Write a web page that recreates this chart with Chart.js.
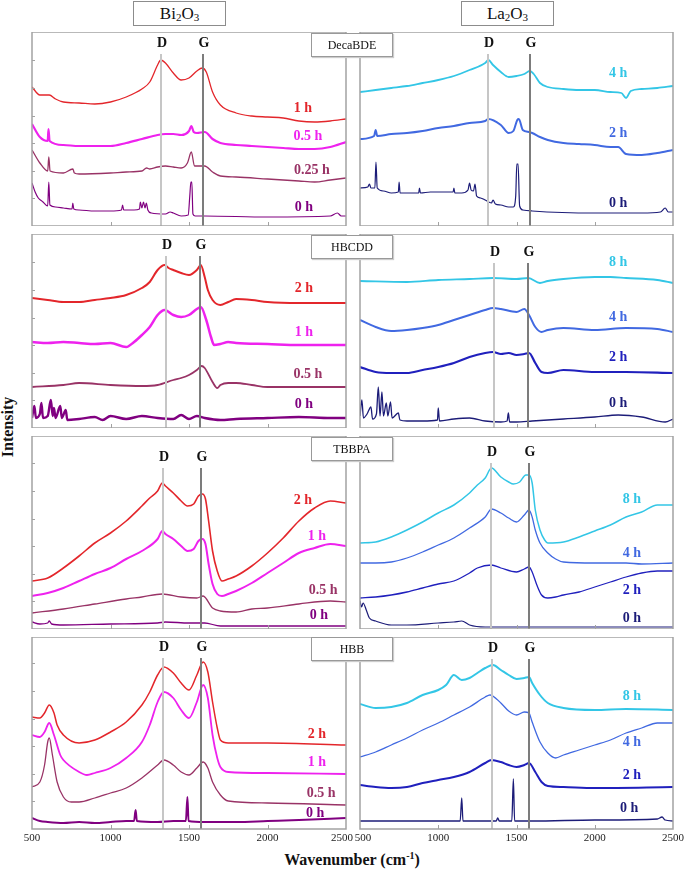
<!DOCTYPE html>
<html>
<head>
<meta charset="utf-8">
<script src="https://cdn.jsdelivr.net/npm/chart.js@4.4.0/dist/chart.umd.min.js"></script>
<style>
  body { margin: 0; width: 685px; height: 870px; background: #fff; position: relative; overflow: hidden;
         font-family: "Liberation Serif", "Times New Roman", serif; color: #111; }
  .wrap { position: absolute; }
  .hdr { position: absolute; top: 1px; width: 91px; height: 23px; border: 1px solid #8c8c8c; background: #fff;
         text-align: center; font-size: 17px; line-height: 24px; }
  .hdr sub { font-size: 11px; vertical-align: -2px; line-height: 0; }
  .tag { position: absolute; left: 311px; width: 80px; height: 22px; border: 1px solid #999; background: #fff;
         text-align: center; font-size: 12px; line-height: 23px; z-index: 5; box-shadow: 1px 1px 1px #ccc; }
  .ylab { position: absolute; left: -32px; top: 418px; width: 80px; text-align: center; font-weight: bold;
          font-size: 16px; transform: rotate(-90deg); }
  .xlab { position: absolute; left: 252px; top: 850px; width: 200px; text-align: center; font-weight: bold; font-size: 16px; }
  .xlab sup { font-size: 10px; }
</style>
</head>
<body>
<div class="hdr" style="left:133px">Bi<sub>2</sub>O<sub>3</sub></div>
<div class="hdr" style="left:461px">La<sub>2</sub>O<sub>3</sub></div>
<div class="tag" style="top:33px">DecaBDE</div>
<div class="tag" style="top:235px">HBCDD</div>
<div class="tag" style="top:437px">TBBPA</div>
<div class="tag" style="top:637px">HBB</div>
<div class="ylab">Intensity</div>
<div class="xlab">Wavenumber (cm<sup>-1</sup>)</div>

<script>
// wavenumber (cm-1), intensity (a.u.) pairs
// --- Bi2O3 / DecaBDE
const bd1h = [[500,139],[550,131],[610,131],[650,127],[700,124],[800,123],[900,122],[1000,124],[1100,129],[1200,137],[1250,144],[1300,161],[1320,166],[1350,163],[1400,153],[1450,146],[1500,148],[1550,155],[1585,158],[1610,154],[1650,134],[1700,121],[1800,113],[1900,110],[2000,109],[2100,108],[2200,105],[2300,104],[2400,105],[2500,107]]
const bd05h = [[500,102],[550,89],[600,85],[605,97],[612,85],[700,81],[800,80],[900,80],[1000,80],[1100,83],[1200,87],[1300,91],[1350,92],[1400,92],[1450,91],[1500,95],[1515,100],[1530,94],[1550,93],[1600,94],[1650,87],[1700,83],[1800,81],[1900,80],[2000,79],[2100,78],[2200,77],[2300,77],[2400,79],[2500,84]]
const bd025h = [[500,76],[550,63],[600,55],[607,69],[615,55],[700,53],[760,57],[770,53],[800,52],[1000,53],[1100,54],[1200,55],[1230,58],[1250,57],[1300,59],[1350,60],[1400,59],[1450,58],[1490,63],[1515,74],[1535,60],[1600,60],[1650,54],[1700,50],[1800,49],[2000,47],[2200,45],[2300,44],[2400,46],[2500,48]]
const bd0h = [[500,43],[520,34],[540,28],[570,24],[600,20],[607,44],[614,21],[650,19],[700,18],[755,17],[760,23],[766,17],[800,16],[900,15],[1000,15],[1070,16],[1077,21],[1084,16],[1150,16],[1185,17],[1190,24],[1200,18],[1210,24],[1220,18],[1228,23],[1238,16],[1260,13],[1350,12],[1380,14],[1400,13],[1450,10],[1495,11],[1505,30],[1512,44],[1518,44],[1525,12],[1540,10],[1600,10],[2000,9],[2400,10],[2445,13],[2470,10],[2500,10]]
// --- La2O3 / DecaBDE
const ld4h = [[500,134],[600,136],[700,138],[800,140],[900,143],[1000,146],[1100,150],[1200,156],[1300,163],[1320,166],[1350,161],[1400,154],[1450,149],[1500,150],[1550,152],[1585,155],[1610,152],[1650,143],[1700,139],[1800,137],[1900,136],[2000,136],[2100,134],[2170,133],[2200,128],[2230,135],[2300,137],[2400,138],[2500,140]]
const ld2h = [[500,87],[590,90],[600,96],[610,90],[700,92],[800,93],[900,95],[1000,98],[1100,100],[1200,103],[1300,105],[1320,107],[1400,101],[1450,93],[1480,95],[1505,106],[1515,107],[1540,96],[1580,94],[1600,93],[1650,89],[1700,86],[1800,83],[1900,82],[2000,81],[2100,79],[2150,79],[2200,72],[2300,71],[2400,73],[2500,76]]
const ld0h = [[500,38],[550,39],[560,42],[570,38],[595,38],[602,64],[610,38],[650,35],[700,33],[745,34],[750,44],[756,33],[800,33],[875,33],[880,38],[886,33],[950,34],[1000,34],[1095,34],[1100,38],[1106,33],[1150,33],[1190,36],[1200,43],[1210,36],[1225,35],[1235,42],[1245,30],[1270,28],[1300,26],[1340,23],[1350,26],[1365,22],[1400,21],[1450,19],[1480,19],[1495,30],[1502,62],[1510,62],[1520,20],[1540,16],[1600,15],[2000,13],[2300,13],[2420,14],[2450,18],[2470,14],[2500,14]]
// --- Bi2O3 / HBCDD
const bh2h = [[500,130],[600,128],[700,126],[800,126],[900,128],[1000,130],[1100,133],[1200,140],[1250,146],[1300,158],[1345,163],[1370,160],[1400,158],[1450,155],[1500,153],[1550,158],[1575,163],[1600,151],[1620,138],[1650,128],[1700,123],[1750,126],[1800,129],[1900,128],[2000,126],[2200,125],[2500,125]]
const bh1h = [[500,86],[600,85],[700,86],[800,85],[900,84],[1000,85],[1100,81],[1150,86],[1200,93],[1250,101],[1300,113],[1345,118],[1400,113],[1450,111],[1500,113],[1550,119],[1575,121],[1610,108],[1640,91],[1660,83],[1700,84],[1750,86],[1800,85],[2000,84],[2200,83],[2500,83]]
const bh05h = [[500,41],[700,43],[800,45],[1000,43],[1200,42],[1300,43],[1400,48],[1450,50],[1500,53],[1550,58],[1580,62],[1600,60],[1650,46],[1680,40],[1700,43],[1750,45],[1800,45],[1900,43],[2000,41],[2500,41]]
const bh0h = [[500,10],[515,22],[525,10],[550,14],[560,25],[570,10],[600,12],[620,28],[632,12],[640,20],[650,10],[680,22],[690,10],[715,18],[725,8],[800,9],[900,11],[950,8],[1000,12],[1100,9],[1200,12],[1300,10],[1400,9],[1450,13],[1500,9],[1550,12],[1600,10],[1700,8],[1800,9],[2000,10],[2200,11],[2400,10],[2500,10]]
// --- La2O3 / HBCDD
const lh8h = [[500,147],[800,146],[1000,148],[1200,149],[1350,150],[1500,149],[1575,150],[1650,145],[1700,147],[1800,149],[2000,151],[2100,151],[2200,150],[2400,148],[2500,145]]
const lh4h = [[500,108],[600,101],[700,97],[800,98],[900,100],[1000,103],[1100,108],[1200,113],[1300,118],[1350,120],[1400,119],[1500,116],[1550,119],[1580,113],[1620,101],[1660,96],[1700,98],[1800,100],[2000,98],[2200,100],[2400,99],[2500,96]]
const lh2h = [[500,61],[600,56],[700,55],[800,55],[900,58],[1000,61],[1100,65],[1200,71],[1300,75],[1350,76],[1400,74],[1450,75],[1500,73],[1550,74],[1580,75],[1620,65],[1660,56],[1700,55],[1800,58],[2000,56],[2200,56],[2500,55]]
const lh0h = [[500,12],[512,28],[522,10],[545,14],[570,21],[580,9],[605,14],[617,41],[628,12],[640,36],[650,12],[668,25],[678,12],[695,26],[705,10],[745,15],[755,8],[800,7],[900,7],[995,8],[1000,20],[1008,7],[1100,9],[1200,10],[1300,7],[1400,6],[1440,7],[1448,15],[1456,6],[1500,6],[1600,7],[1800,9],[2000,11],[2150,13],[2300,11],[2450,6],[2500,9]]
// --- Bi2O3 / TBBPA
const bt2h = [[500,48],[600,51],[700,61],[800,73],[900,86],[1000,96],[1100,108],[1200,123],[1250,131],[1300,138],[1330,146],[1350,143],[1400,136],[1450,128],[1490,123],[1530,125],[1560,133],[1585,135],[1605,130],[1625,108],[1650,78],[1680,58],[1710,48],[1750,50],[1800,53],[1900,63],[2000,76],[2100,91],[2200,108],[2300,121],[2400,128],[2500,126]]
const bt1h = [[500,33],[600,36],[700,41],[800,48],[900,55],[1000,61],[1100,70],[1200,78],[1300,90],[1330,98],[1350,95],[1400,90],[1450,83],[1490,78],[1530,80],[1560,88],[1585,90],[1605,85],[1625,65],[1650,45],[1680,35],[1710,33],[1750,35],[1800,38],[1900,46],[2000,56],[2100,66],[2200,76],[2300,81],[2400,85],[2500,83]]
const bt05h = [[500,16],[700,20],[900,25],[1100,30],[1200,32],[1330,35],[1450,32],[1550,31],[1590,33],[1650,21],[1700,18],[1800,17],[1900,20],[2000,21],[2200,25],[2400,28],[2500,27]]
const bt0h = [[500,7],[550,5],[600,6],[610,8],[625,5],[700,4],[1000,5],[1300,6],[1350,7],[1500,6],[1600,6],[1700,3],[2000,3],[2500,3]]
// --- La2O3 / TBBPA
const lt8h = [[500,86],[600,87],[700,92],[800,99],[900,107],[1000,116],[1100,124],[1200,136],[1250,144],[1300,151],[1340,161],[1400,152],[1450,147],[1480,145],[1520,147],[1560,154],[1580,154],[1600,146],[1620,119],[1650,99],[1680,89],[1700,86],[1800,87],[1900,92],[2000,98],[2100,104],[2200,112],[2300,117],[2400,124],[2500,124]]
const lt4h = [[500,66],[600,66],[700,67],[800,71],[900,77],[1000,84],[1100,91],[1200,101],[1300,112],[1340,120],[1400,116],[1450,111],[1500,107],[1550,114],[1580,119],[1600,112],[1620,99],[1650,86],[1700,76],[1750,70],[1800,67],[2000,66],[2200,66],[2300,65],[2500,66]]
const lt2h = [[500,31],[600,32],[700,34],[800,37],[900,41],[1000,45],[1100,48],[1200,56],[1250,61],[1340,64],[1400,61],[1500,57],[1550,60],[1580,62],[1600,57],[1630,44],[1660,34],[1700,31],[1750,32],[1800,34],[1900,37],[2000,42],[2100,47],[2200,52],[2300,56],[2400,58],[2500,58]]
const lt0h = [[500,28],[510,22],[520,26],[540,19],[560,11],[600,8],[700,4],[800,4],[1000,6],[1100,7],[1150,8],[1200,4],[1300,2],[1500,2],[2000,2],[2500,2]]
// --- Bi2O3 / HBB
const bb2h = [[500,112],[550,111],[580,116],[610,124],[640,116],[660,104],[700,94],[800,86],[900,89],[1000,97],[1100,107],[1200,124],[1250,137],[1300,154],[1340,162],[1400,156],[1450,146],[1500,139],[1550,154],[1590,167],[1620,157],[1650,127],[1680,101],[1700,89],[1750,86],[2000,86],[2500,84]]
const bb1h = [[500,94],[550,92],[580,97],[610,106],[640,94],[680,74],[700,69],[800,57],[850,54],[900,56],[1000,61],[1100,71],[1200,87],[1250,104],[1300,127],[1340,137],[1400,131],[1450,119],[1500,111],[1550,127],[1590,144],[1620,131],[1650,94],[1680,71],[1700,62],[1750,57],[2000,56],[2500,55]]
const bb05h = [[500,42],[550,47],[580,64],[600,87],[610,91],[630,74],[660,47],[700,32],[750,27],[800,27],[900,31],[1000,36],[1100,41],[1200,51],[1300,64],[1340,69],[1400,64],[1450,57],[1500,54],[1550,61],[1590,67],[1620,61],[1650,47],[1700,34],[1750,28],[2000,26],[2500,24]]
const bb0h = [[500,11],[550,8],[600,7],[700,6],[800,7],[900,6],[1000,7],[1100,8],[1150,8],[1160,19],[1168,8],[1300,7],[1400,8],[1480,8],[1490,32],[1497,8],[1600,7],[1800,7],[2000,8],[2200,9],[2500,11]]
// --- La2O3 / HBB
const lb8h = [[500,125],[600,121],[700,122],[800,126],[900,134],[1000,139],[1050,144],[1100,154],[1150,149],[1200,151],[1250,156],[1300,161],[1350,164],[1400,159],[1450,154],[1500,150],[1550,151],[1580,152],[1600,146],[1650,134],[1700,126],[1800,121],[2000,119],[2200,120],[2500,119]]
const lb4h = [[500,72],[600,77],[700,84],[800,91],[900,99],[1000,106],[1100,114],[1200,122],[1300,132],[1330,134],[1400,126],[1450,118],[1500,114],[1550,117],[1580,116],[1600,107],[1650,87],[1700,76],[1750,71],[1800,74],[1900,79],[2000,84],[2100,89],[2200,96],[2300,101],[2400,106],[2500,106]]
const lb2h = [[500,44],[600,42],[700,41],[800,42],[900,46],[1000,49],[1100,52],[1200,57],[1300,66],[1340,69],[1400,67],[1450,64],[1500,62],[1550,64],[1580,66],[1620,57],[1660,47],[1700,43],[1800,42],[2000,41],[2500,42]]
const lb0h = [[500,8],[700,8],[900,8],[1140,8],[1150,31],[1158,8],[1370,8],[1380,11],[1390,8],[1470,8],[1480,50],[1488,8],[1600,8],[2000,9],[2400,10],[2430,12],[2450,9],[2500,8]]

const xTicks = [500, 1000, 1500, 2000, 2500]
const yTickStep = 27.6   // spacing of the small intensity ticks on the Bi2O3 frames
// D and G band positions per panel (cm-1)
const dBand = [1322, 1320, 1351, 1354, 1332, 1337, 1336, 1341]
const gBand = [1587, 1586, 1570, 1575, 1574, 1578, 1576, 1582]

const RED = '#e3262b', MAG = '#ee22ee', PLUM = '#993366', PURP = '#800080'
const CYAN = '#33c6e6', ROYAL = '#4169e1', MBLUE = '#2020bd', NAVY = '#1c1c78'

// layout
const colX = [32, 360], colW = [314, 313]
const rowY = [32, 234, 436, 637], rowH = [194, 194, 193, 192]
const tagY = [[11, 11], [11, 18], [21, 16], [10, 11]]

const panels = [
  { row: 0, col: 0, curves: [
    { d: bd1h, c: RED, w: 1.3, t: '1 h', lx: 2226, ly: 118 },
    { d: bd05h, c: MAG, w: 2.2, t: '0.5 h', lx: 2258, ly: 90 },
    { d: bd025h, c: PLUM, w: 1.3, t: '0.25 h', lx: 2283, ly: 56 },
    { d: bd0h, c: PURP, w: 1.2, t: '0 h', lx: 2232, ly: 19 }] },
  { row: 0, col: 1, curves: [
    { d: ld4h, c: CYAN, w: 1.8, t: '4 h', lx: 2149, ly: 153 },
    { d: ld2h, c: ROYAL, w: 2, t: '2 h', lx: 2149, ly: 93 },
    { d: ld0h, c: NAVY, w: 1.2, t: '0 h', lx: 2149, ly: 23 }] },
  { row: 1, col: 0, curves: [
    { d: bh2h, c: RED, w: 2, t: '2 h', lx: 2232, ly: 140 },
    { d: bh1h, c: MAG, w: 2.5, t: '1 h', lx: 2232, ly: 96 },
    { d: bh05h, c: PLUM, w: 1.8, t: '0.5 h', lx: 2258, ly: 54 },
    { d: bh0h, c: PURP, w: 2.4, t: '0 h', lx: 2232, ly: 24 }] },
  { row: 1, col: 1, curves: [
    { d: lh8h, c: CYAN, w: 1.8, t: '8 h', lx: 2149, ly: 166 },
    { d: lh4h, c: ROYAL, w: 2, t: '4 h', lx: 2149, ly: 111 },
    { d: lh2h, c: MBLUE, w: 2.2, t: '2 h', lx: 2149, ly: 71 },
    { d: lh0h, c: NAVY, w: 1.3, t: '0 h', lx: 2149, ly: 25 }] },
  { row: 2, col: 0, curves: [
    { d: bt2h, c: RED, w: 1.6, t: '2 h', lx: 2226, ly: 129 },
    { d: bt1h, c: MAG, w: 2, t: '1 h', lx: 2315, ly: 93 },
    { d: bt05h, c: PLUM, w: 1.3, t: '0.5 h', lx: 2354, ly: 39 },
    { d: bt0h, c: PURP, w: 1.3, t: '0 h', lx: 2328, ly: 14 }] },
  { row: 2, col: 1, curves: [
    { d: lt8h, c: CYAN, w: 1.5, t: '8 h', lx: 2238, ly: 130 },
    { d: lt4h, c: ROYAL, w: 1.3, t: '4 h', lx: 2238, ly: 76 },
    { d: lt2h, c: MBLUE, w: 1.3, t: '2 h', lx: 2238, ly: 39 },
    { d: lt0h, c: NAVY, w: 1.2, t: '0 h', lx: 2238, ly: 11 }] },
  { row: 3, col: 0, curves: [
    { d: bb2h, c: RED, w: 1.5, t: '2 h', lx: 2315, ly: 95 },
    { d: bb1h, c: MAG, w: 1.8, t: '1 h', lx: 2315, ly: 67 },
    { d: bb05h, c: PLUM, w: 1.3, t: '0.5 h', lx: 2341, ly: 36 },
    { d: bb0h, c: PURP, w: 2, t: '0 h', lx: 2303, ly: 16 }] },
  { row: 3, col: 1, curves: [
    { d: lb8h, c: CYAN, w: 2, t: '8 h', lx: 2238, ly: 133 },
    { d: lb4h, c: ROYAL, w: 1.3, t: '4 h', lx: 2238, ly: 87 },
    { d: lb2h, c: MBLUE, w: 2, t: '2 h', lx: 2238, ly: 54 },
    { d: lb0h, c: NAVY, w: 1.3, t: '0 h', lx: 2219, ly: 21 }] }
]

const SIDE = 18, FOOT = 22

const decor = (p, i) => ({
  id: 'decor' + i,
  afterDatasetsDraw(chart) {
    const { ctx, chartArea: a, scales: { x, y } } = chart
    const ty = a.top + tagY[p.row][p.col]
    ctx.save()
    // band lines
    ctx.lineWidth = 2
    ctx.strokeStyle = '#c6c6c6'
    let px = Math.round(x.getPixelForValue(dBand[i]))
    ctx.beginPath(); ctx.moveTo(px, ty + 11); ctx.lineTo(px, a.bottom); ctx.stroke()
    ctx.strokeStyle = '#7c7c7c'
    let gx = Math.round(x.getPixelForValue(gBand[i]))
    ctx.beginPath(); ctx.moveTo(gx, ty + 11); ctx.lineTo(gx, a.bottom); ctx.stroke()
    ctx.fillStyle = '#111'
    ctx.font = 'bold 14px "Liberation Serif"'
    ctx.textAlign = 'center'
    ctx.textBaseline = 'middle'
    ctx.fillText('D', px + 1, ty)
    ctx.fillText('G', gx + 1, ty)
    // curve labels
    p.curves.forEach(c => {
      ctx.fillStyle = c.c
      ctx.fillText(c.t, x.getPixelForValue(c.lx), y.getPixelForValue(c.ly))
    })
    // frame
    ctx.strokeStyle = '#a2a2a2'
    ctx.lineWidth = 1.5
    ctx.strokeRect(a.left, a.top, a.right - a.left, a.bottom - a.top)
    // small inner ticks
    ctx.lineWidth = 1
    xTicks.slice(1, -1).forEach(v => {
      const tx = Math.round(x.getPixelForValue(v)) + 0.5
      ctx.beginPath(); ctx.moveTo(tx, a.bottom); ctx.lineTo(tx, a.bottom - 4); ctx.stroke()
    })
    if (p.col === 0) {
      for (let v = yTickStep; v < rowH[p.row] - 10; v += yTickStep) {
        const yy = Math.round(y.getPixelForValue(v)) + 0.5
        ctx.beginPath(); ctx.moveTo(a.left, yy); ctx.lineTo(a.left + 3, yy); ctx.stroke()
      }
    }
    if (p.row === 3) {
      ctx.fillStyle = '#222'
      ctx.font = '11px "Liberation Serif"'
      ctx.textBaseline = 'top'
      xTicks.forEach((v, k) => {
        // the two edge labels where the panels meet are nudged apart
        let off = 0
        if (p.col === 0 && k === xTicks.length - 1) off = -4
        if (p.col === 1 && k === 0) off = 3
        ctx.fillText(String(v), x.getPixelForValue(v) + off, a.bottom + 4)
      })
    }
    ctx.restore()
  }
})

panels.forEach((p, i) => {
  const w = colW[p.col] + SIDE * 2
  const h = rowH[p.row] + (p.row === 3 ? FOOT : 0)
  const div = document.createElement('div')
  div.className = 'wrap'
  div.style.left = (colX[p.col] - SIDE) + 'px'
  div.style.top = rowY[p.row] + 'px'
  const cv = document.createElement('canvas')
  cv.width = w
  cv.height = h
  div.appendChild(cv)
  document.body.appendChild(div)

  new Chart(cv, {
    type: 'line',
    data: {
      datasets: p.curves.map(c => ({
        label: c.t,
        data: c.d.map(([wn, v]) => ({ x: wn, y: v })),
        borderColor: c.c,
        borderWidth: c.w,
        pointRadius: 0,
        fill: false,
        cubicInterpolationMode: 'monotone'
      }))
    },
    options: {
      responsive: false,
      animation: false,
      devicePixelRatio: 1,
      events: [],
      layout: { padding: { left: SIDE, right: SIDE, top: 0, bottom: p.row === 3 ? FOOT : 0 } },
      scales: {
        x: { type: 'linear', min: 500, max: 2500, display: false },
        y: { min: 0, max: rowH[p.row], display: false }
      },
      plugins: { legend: { display: false }, tooltip: { enabled: false } }
    },
    plugins: [decor(p, i)]
  })
})
</script>
</body>
</html>
